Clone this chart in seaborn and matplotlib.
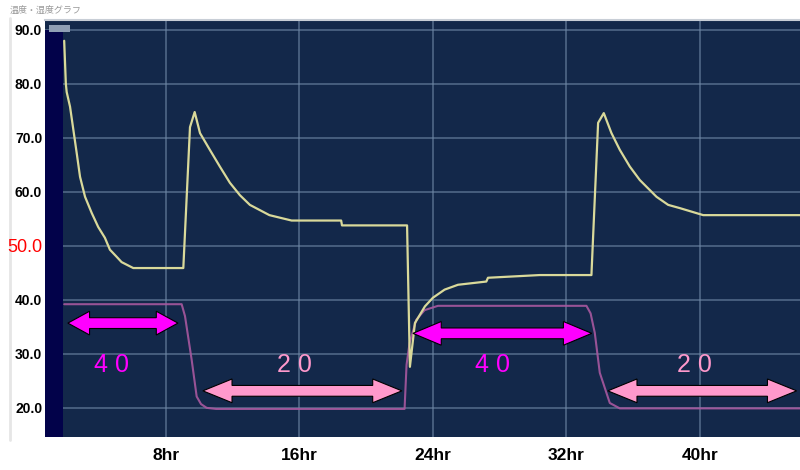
import matplotlib
matplotlib.use("Agg")
import matplotlib.pyplot as plt
import seaborn as sns
import pandas as pd
from matplotlib.lines import Line2D
from matplotlib.patches import Rectangle

# ---------------- data ----------------
hum_hours = [1.9, 2.0, 2.05, 2.25, 2.45, 2.65, 2.85, 3.15, 3.55, 3.94, 4.34, 4.64,
             5.04, 5.34, 6.04, 9.04, 9.44, 9.72, 10.04, 10.63, 11.23, 11.83, 12.43,
             13.03, 14.2, 15.53, 18.5, 18.55, 22.45, 22.62, 22.92, 23.52, 24.0,
             24.7, 25.5, 27.2, 27.3, 30.4, 33.5, 33.6, 33.9, 34.24, 34.7, 35.2,
             35.8, 36.4, 37.4, 38.1, 38.8, 40.2, 46.0]
hum_values = [88.0, 80.0, 78.5, 75.8, 71.5, 67.2, 62.8, 59.1, 56.1, 53.5, 51.5, 49.3,
              48.0, 47.0, 45.9, 45.9, 72.0, 74.8, 70.9, 67.8, 64.7, 61.7, 59.4,
              57.6, 55.7, 54.7, 54.7, 53.8, 53.8, 27.6, 35.7, 38.8, 40.4,
              41.9, 42.8, 43.4, 44.1, 44.6, 44.6, 51.7, 72.8, 74.6, 70.9, 67.8,
              64.7, 62.2, 59.1, 57.6, 57.0, 55.7, 55.7]

temp_hours = [1.9, 8.94, 9.14, 9.54, 9.84, 10.1, 10.44, 11.0, 22.3, 22.42, 22.6, 23.0,
              23.5, 24.3, 33.2, 33.45, 33.7, 34.0, 34.6, 35.2, 46.0]
temp_values = [39.2, 39.2, 37.0, 28.9, 22.1, 20.7, 20.0, 19.8, 19.8, 28.0, 32.0, 36.3,
               38.1, 38.9, 38.9, 37.5, 33.9, 26.5, 20.9, 19.9, 19.9]

y_ticks = [20, 30, 40, 50, 60, 70, 80, 90]
y_labels = ["20.0", "30.0", "40.0", "50.0", "60.0", "70.0", "80.0", "90.0"]
x_ticks = [8, 16, 24, 32, 40]
x_labels = ["8hr", "16hr", "24hr", "32hr", "40hr"]

# annotation arrows: start hour, end hour, level, label, colour
arrow_start = [2.12, 10.21, 22.8, 34.48]
arrow_end = [8.72, 22.14, 33.52, 45.8]
arrow_level = [35.7, 23.15, 33.8, 23.15]
label_hour = [4.76, 15.67, 27.6, 39.7]
label_text = ["4 0", "2 0", "4 0", "2 0"]
MAGENTA = "#ff00ff"
PINK = "#ff99cc"
arrow_colors = [MAGENTA, PINK, MAGENTA, PINK]
head_len = [1.3, 1.75, 1.7, 1.75]

title_text = "温度・湿度グラフ"

# ---------------- figure ----------------
sns.set_theme(style="dark")
plt.rcParams['font.family'] = ['Liberation Sans', 'DejaVu Sans']

fig = plt.figure(figsize=(8, 4.7), dpi=100, facecolor="white")
ax = fig.add_axes([45 / 800, 33 / 470, 755 / 800, 417 / 470])
BG = "#13284a"
ax.set_facecolor(BG)

XMIN, XMAX = 0.75, 46.0
YMIN, YMAX = 14.6, 91.85
ax.set_xlim(XMIN, XMAX)
ax.set_ylim(YMIN, YMAX)

# grid
for yv in y_ticks:
    ax.axhline(yv, color="#7089a8", lw=1.1, alpha=0.7, zorder=1)
for xv in x_ticks:
    ax.axvline(xv, color="#7089a8", lw=1.1, alpha=0.7, zorder=1)

# dark bar at left
ax.fill_between([XMIN, 1.83], YMIN, 90, color="#02024a", zorder=2, lw=0)
ax.add_patch(Rectangle((0.005, 0.972), 0.028, 0.016, transform=ax.transAxes,
                       facecolor="#8f9fb5", edgecolor="none", zorder=3))

df_t = pd.DataFrame({"hour": temp_hours, "value": temp_values})
df_h = pd.DataFrame({"hour": hum_hours, "value": hum_values})
sns.lineplot(data=df_t, x="hour", y="value", ax=ax, color="#a8589f", lw=1.5,
             alpha=0.9, estimator=None, zorder=3)
sns.lineplot(data=df_h, x="hour", y="value", ax=ax, color="#d9d99a", lw=1.6,
             estimator=None, zorder=4)


def darrow(ax, x0, x1, y, hl, hw, bw, color):
    xs = [x0, x0 + hl, x0 + hl, x1 - hl, x1 - hl, x1, x1 - hl, x1 - hl, x0 + hl, x0 + hl]
    ys = [y, y + hw, y + bw, y + bw, y + hw, y, y - hw, y - bw, y - bw, y - hw]
    ax.fill(xs, ys, facecolor=color, edgecolor="black", lw=0.8, zorder=6)


for x0, x1, yv, hl, c in zip(arrow_start, arrow_end, arrow_level, head_len, arrow_colors):
    darrow(ax, x0, x1, yv, hl, 2.2, 1.0, c)

for xh, t, c in zip(label_hour, label_text, arrow_colors):
    ax.text(xh, 28.0, t, color=c, fontsize=18, ha="center", va="center",
            family=["Liberation Sans Narrow", "Liberation Sans", "DejaVu Sans"], zorder=6)

# ticks
ax.set_yticks(y_ticks)
ax.set_yticklabels(y_labels)
ax.set_xticks(x_ticks)
ax.set_xticklabels(x_labels)
ax.tick_params(axis="both", length=0)
ax.tick_params(axis="y", pad=2)
ax.tick_params(axis="x", pad=8)
for lab in ax.get_yticklabels():
    if lab.get_text() == "50.0":
        lab.set_color("#ff0000")
        lab.set_fontsize(13)
        lab.set_fontweight("normal")
    else:
        lab.set_color("black")
        lab.set_fontsize(10)
        lab.set_fontweight("bold")
for lab in ax.get_xticklabels():
    lab.set_color("black")
    lab.set_fontsize(12.5)
    lab.set_fontweight("bold")
    lab.set_family(["Liberation Sans Narrow", "Liberation Sans", "DejaVu Sans"])

ax.set_xlabel("")
ax.set_ylabel("")
for s in ["left", "right", "bottom"]:
    ax.spines[s].set_visible(False)
ax.spines["top"].set_color("#c8ced6")
ax.spines["top"].set_linewidth(1.5)

# frame decorations
fig.add_artist(Line2D([10 / 800, 10 / 800], [30 / 470, 452 / 470], color="#e6e6e6",
                      lw=2, zorder=-5))
fig.text(10 / 800, 1 - 10 / 470, title_text, fontsize=6.5, color="#9a9a9a",
         va="center", ha="left", family=["Noto Sans CJK JP", "DejaVu Sans"])

fig.savefig("out.png", dpi=100, facecolor="white")
